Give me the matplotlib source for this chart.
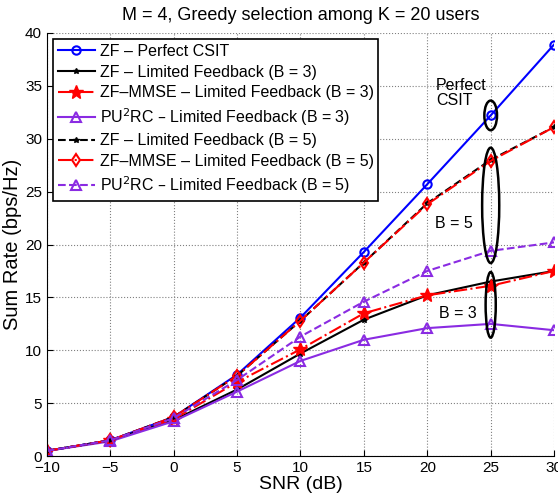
import numpy as np
import matplotlib
matplotlib.use("Agg")
import matplotlib.pyplot as plt
from matplotlib.patches import Ellipse

# Data ---------------------------------------------------------------------------------------------
snr_db        = [-10, -5, 0, 5, 10, 15, 20, 25, 30]
zf_perfect    = [0.5, 1.5, 3.7, 7.7, 13.1, 19.3, 25.7, 32.2, 38.9]
zf_b3         = [0.5, 1.5, 3.4, 6.3, 9.7, 12.9, 15.2, 16.5, 17.5]
zf_mmse_b3    = [0.5, 1.5, 3.5, 7.0, 10.1, 13.5, 15.2, 16.1, 17.5]
pu2rc_b3      = [0.5, 1.4, 3.3, 6.1, 9.0, 11.0, 12.1, 12.5, 11.9]
zf_b5         = [0.5, 1.5, 3.7, 7.6, 12.8, 18.3, 23.9, 28.0, 31.1]
zf_mmse_b5    = [0.5, 1.5, 3.7, 7.6, 12.8, 18.3, 23.8, 27.9, 31.1]
pu2rc_b5      = [0.5, 1.5, 3.6, 7.2, 11.3, 14.6, 17.5, 19.4, 20.2]

purple = '#8a2be2'

# Plot ---------------------------------------------------------------------------------------------
plt.rcParams['font.family'] = ['Liberation Sans', 'DejaVu Sans']
fig = plt.figure(figsize=(5.58, 4.98), dpi=100)
ax  = fig.add_axes([0.084, 0.084, 0.909, 0.850])

ax.plot(snr_db, zf_perfect, '-o',  color='blue',  lw=1.5, ms=6, mfc='none', mew=1.5,
        label='ZF \u2013 Perfect CSIT')
ax.plot(snr_db, zf_b3,      '-*',  color='black', lw=1.5, ms=4,
        label='ZF \u2013 Limited Feedback (B = 3)')
ax.plot(snr_db, zf_mmse_b3, '-.*', color='red',   lw=1.5, ms=10,
        label='ZF\u2013MMSE \u2013 Limited Feedback (B = 3)')
ax.plot(snr_db, pu2rc_b3,   '-^',  color=purple,  lw=1.5, ms=7, mfc='none', mew=1.5,
        label='PU$^2$RC \u2013 Limited Feedback (B = 3)')
ax.plot(snr_db, zf_b5,      '--*', color='black', lw=1.5, ms=4,
        label='ZF \u2013 Limited Feedback (B = 5)')
ax.plot(snr_db, zf_mmse_b5, '-.d', color='red',   lw=1.5, ms=6, mfc='none', mew=1.5,
        label='ZF\u2013MMSE \u2013 Limited Feedback (B = 5)')
ax.plot(snr_db, pu2rc_b5,   '--^', color=purple,  lw=1.5, ms=7, mfc='none', mew=1.5,
        label='PU$^2$RC \u2013 Limited Feedback (B = 5)')

# Ellipse annotations
ax.add_patch(Ellipse((25, 32.2), 1.0, 2.8,  fill=False, ec='black', lw=1.8, zorder=5))
ax.add_patch(Ellipse((25, 23.7), 1.35, 10.9, fill=False, ec='black', lw=1.8, zorder=5))
ax.add_patch(Ellipse((25, 14.3), 0.8, 6.2,  fill=False, ec='black', lw=1.8, zorder=5))
ax.text(20.7, 34.3, 'Perfect\nCSIT', fontsize=11.5, va='center', ha='left', linespacing=1.0)
ax.text(20.6, 22.0, 'B = 5', fontsize=11.5, va='center', ha='left')
ax.text(20.9, 13.5, 'B = 3', fontsize=11.5, va='center', ha='left')

ax.set_xlim(-10, 30)
ax.set_ylim(0, 40)
ax.set_xticks(range(-10, 31, 5))
ax.set_yticks(range(0, 41, 5))
ax.spines['top'].set_visible(False)
ax.spines['right'].set_visible(False)
ax.tick_params(direction='in', labelsize=11, length=4)
ax.grid(True, linestyle=':', color='gray', lw=0.8)
ax.set_xlabel('SNR (dB)', fontsize=14, labelpad=1)
ax.set_ylabel('Sum Rate (bps/Hz)', fontsize=14.5, labelpad=2)
ax.set_title('M = 4, Greedy selection among K = 20 users', fontsize=13, pad=9)

leg = ax.legend(loc='upper left', fontsize=11.5, fancybox=False, framealpha=1,
                edgecolor='black', borderaxespad=0.4, handlelength=2.3,
                labelspacing=0.35, borderpad=0.3, handletextpad=0.3)
leg.get_frame().set_linewidth(1.2)

fig.savefig('out.png', dpi=100)
